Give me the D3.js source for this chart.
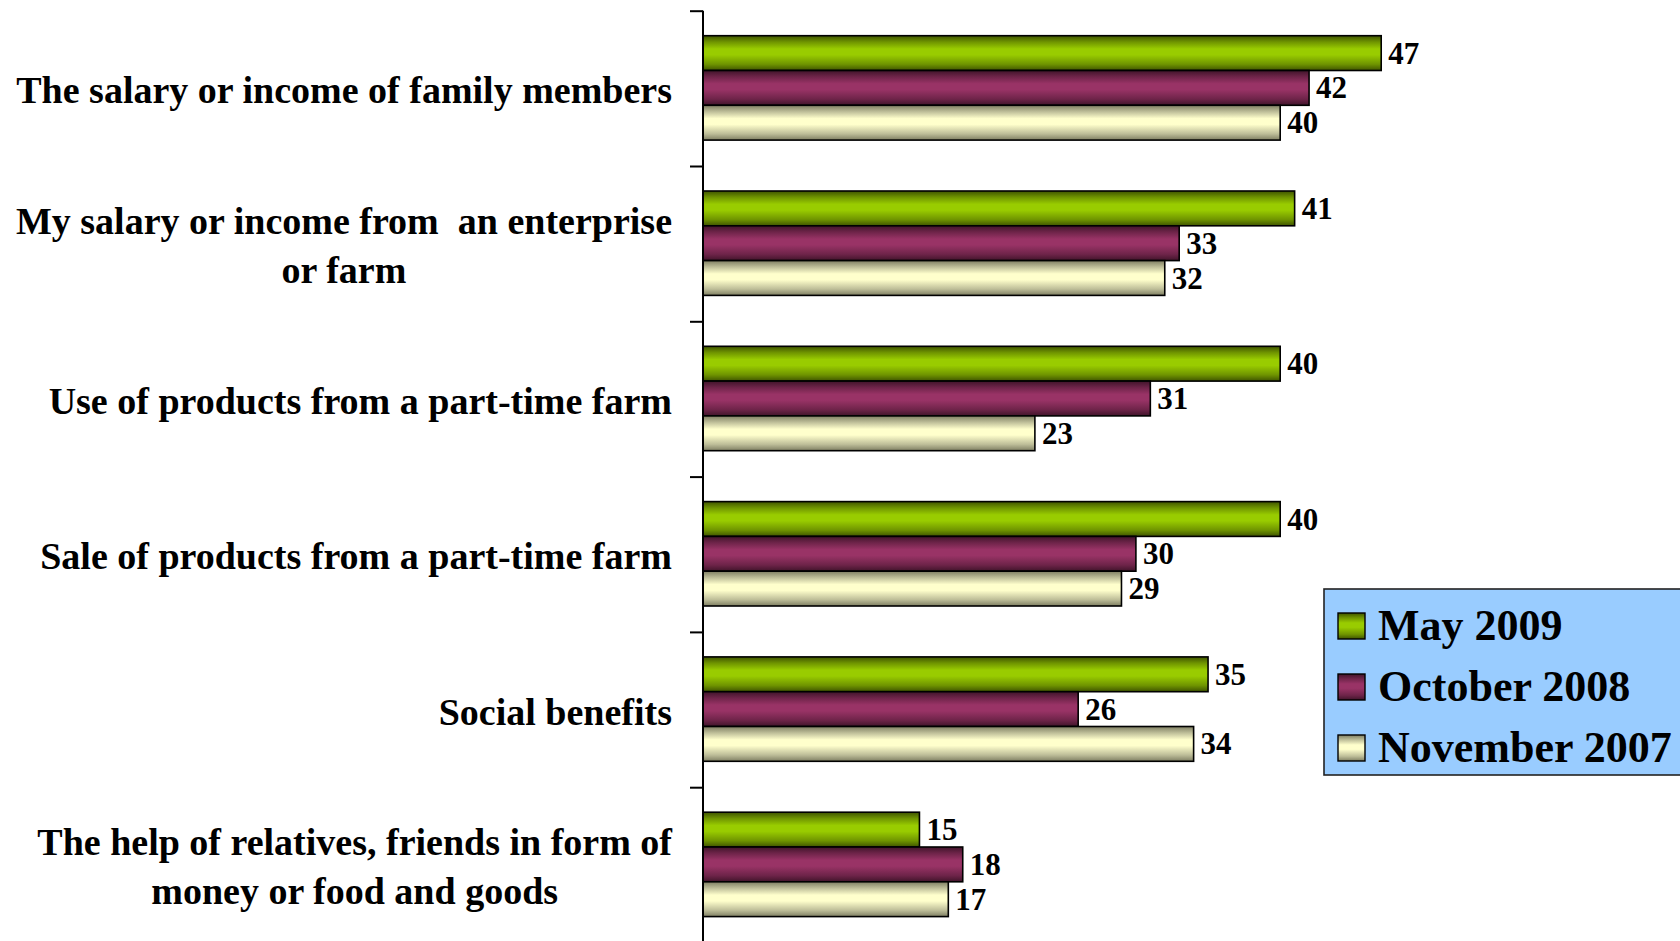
<!DOCTYPE html>
<html>
<head>
<meta charset="utf-8">
<script src="https://cdn.jsdelivr.net/npm/d3@7"></script>
<style>
  html, body { margin: 0; padding: 0; background: #ffffff; }
  svg { display: block; }
  text { font-family: "Liberation Serif", "Times New Roman", serif; font-weight: bold; fill: #000; white-space: pre; }
</style>
</head>
<body>
<svg id="chart" width="1680" height="941"></svg>
<script>
// ---- data ----
const categories = [
  ["The salary or income of family members"],
  ["My salary or income from  an enterprise", "or farm"],
  ["Use of products from a part-time farm"],
  ["Sale of products from a part-time farm"],
  ["Social benefits"],
  ["The help of relatives, friends in form of", "money or food and goods"]
];
const seriesNames = ["May 2009", "October 2008", "November 2007"];
const may2009 = [47, 41, 40, 40, 35, 15];
const october2008 = [42, 33, 31, 30, 26, 18];
const november2007 = [40, 32, 23, 29, 34, 17];
const seriesValues = [may2009, october2008, november2007];

// ---- layout ----
const svg = d3.select("#chart");
const W = 1680, H = 941;
const axisX = 703;
const topY = 10.7, bandH = 155.3;
const catIdx = d3.range(categories.length);

const x = d3.scaleLinear().domain([0, 50]).range([axisX, axisX + 50 * 14.43]);
const y = d3.scaleBand().domain(catIdx).range([topY, topY + bandH * categories.length]).padding(0);
const ySub = d3.scaleBand().domain(d3.range(seriesNames.length)).range([25, 25 + 3 * 34.8]).padding(0);
const yTick = d3.scaleLinear().domain([0, categories.length]).range([topY, topY + bandH * categories.length]);

// gradients
const defs = svg.append("defs");
const palettes = [
  ["#3f5400", "#6f9400", "#99cc00", "#99cc00", "#6f9400", "#3f5400"],
  ["#40142a", "#6e2449", "#993366", "#993366", "#6e2449", "#40142a"],
  ["#7e7e62", "#bdbd98", "#ffffcc", "#ffffcc", "#bdbd98", "#7e7e62"]
];
const stops = [0, 0.18, 0.38, 0.55, 0.82, 1];
palettes.forEach((p, i) => {
  const g = defs.append("linearGradient").attr("id", "grad" + i)
    .attr("x1", 0).attr("y1", 0).attr("x2", 0).attr("y2", 1);
  p.forEach((c, k) => g.append("stop").attr("offset", stops[k]).attr("stop-color", c));
});

// bars
const rows = [];
catIdx.forEach(ci => seriesValues.forEach((vals, si) => rows.push({ ci, si, v: vals[ci] })));

const barsG = svg.append("g");
barsG.selectAll("rect").data(rows).enter().append("rect")
  .attr("x", x(0))
  .attr("y", d => y(d.ci) + ySub(d.si))
  .attr("width", d => x(d.v) - x(0))
  .attr("height", ySub.bandwidth())
  .attr("fill", d => `url(#grad${d.si})`)
  .attr("stroke", "#000")
  .attr("stroke-width", 1.6);

// value labels
barsG.selectAll("text.val").data(rows).enter().append("text")
  .attr("class", "val")
  .attr("x", d => x(d.v) + 7)
  .attr("y", d => y(d.ci) + ySub(d.si) + ySub.bandwidth() / 2 + 10.5)
  .attr("font-size", 31)
  .text(d => d.v);

// axis
const axis = d3.axisLeft(yTick).tickValues(d3.range(categories.length + 1)).tickFormat("").tickSize(13).tickSizeOuter(0);
const axG = svg.append("g").attr("transform", `translate(${axisX},0)`).call(axis);
axG.select(".domain").attr("stroke", "#000").attr("stroke-width", 2);
axG.selectAll(".tick line").attr("stroke", "#000").attr("stroke-width", 2);
axG.select(".domain").attr("d", `M0,${topY}V${H + 5}`);

// category labels
const labG = svg.append("g");
const rightEdge = 672;
const lineGap = 49;
categories.forEach((lines, ci) => {
  const cy = y(ci) + bandH / 2;
  const g = labG.append("g");
  const texts = lines.map((ln, li) => g.append("text")
    .attr("font-size", 38)
    .attr("xml:space", "preserve")
    .attr("text-anchor", "middle")
    .attr("y", cy + 15 + (li - (lines.length - 1) / 2) * lineGap)
    .text(ln));
  const maxW = d3.max(texts, t => t.node().getComputedTextLength());
  texts.forEach(t => t.attr("x", rightEdge - maxW / 2));
});

// legend
const lg = svg.append("g");
lg.append("rect").attr("x", 1324).attr("y", 589).attr("width", 362).attr("height", 186)
  .attr("fill", "#99ccff").attr("stroke", "#222").attr("stroke-width", 1.6);
seriesNames.forEach((name, i) => {
  const yy = 613 + i * 61;
  lg.append("rect").attr("x", 1338).attr("y", yy).attr("width", 27).attr("height", 26)
    .attr("fill", `url(#grad${i})`).attr("stroke", "#000").attr("stroke-width", 1.4);
  lg.append("text").attr("x", 1378).attr("y", yy + 27).attr("font-size", 44).text(name);
});
</script>
</body>
</html>
